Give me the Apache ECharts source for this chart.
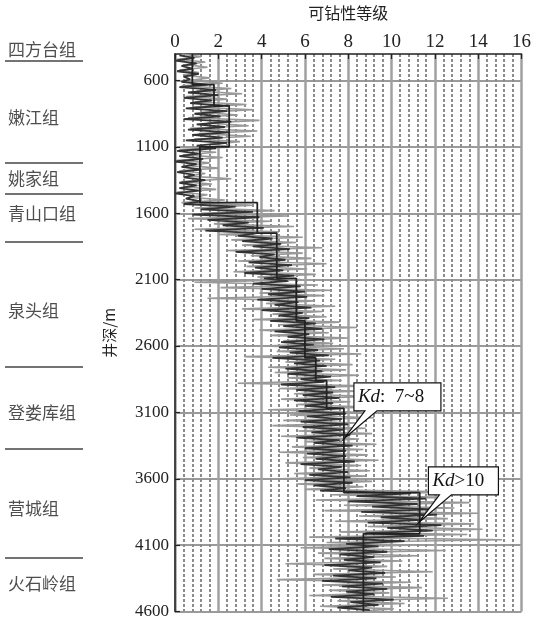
<!DOCTYPE html>
<html>
<head>
<meta charset="utf-8">
<style>
  html, body { margin: 0; padding: 0; background: #fff; }
  #chart { width: 534px; height: 620px; }
</style>
<script src="https://cdn.jsdelivr.net/npm/echarts@6/dist/echarts.min.js"></script>
</head>
<body>
<div id="chart"></div>
<script>
// depth axis (m) and drillability level ticks
var depthTicks = [600, 1100, 1600, 2100, 2600, 3100, 3600, 4100, 4600];
var kdTicks = [0, 2, 4, 6, 8, 10, 12, 14, 16];

// formation column
var formations = ['四方台组', '嫩江组', '姚家组', '青山口组', '泉头组', '登娄库组', '营城组', '火石岭组'];
var formationLabelDepth = [377, 882, 1341, 1605, 2335, 3103, 3819, 4384];
var formationBoundary = [460, 1228, 1454, 1816, 2757, 3374, 4195];

// raw drillability, light trace: depths 400, 420, ... 4600
var lightStart = 400, lightStep = 20;
var lightKd = [
  0.3,1.2,0.1,1.4,0.5,1.5,0.2,1.1,0.4,1.6,
  0.6,2.2,0.3,2.6,1.0,3.1,0.5,2.4,0.9,3.3,
  0.8,3.6,1.2,2.9,0.6,3.9,1.5,3.4,0.7,3.8,
  1.1,3.5,0.9,3.0,1.6,2.7,0.2,1.9,0.4,2.2,
  0.1,1.6,0.5,2.0,0.2,1.4,0.6,2.6,0.3,1.7,
  0.4,1.9,0.1,1.5,0.7,2.3,0.3,3.6,0.9,4.6,
  1.2,5.2,0.6,4.4,1.8,5.5,0.9,4.8,2.0,5.9,
  2.6,5.6,3.1,6.8,2.4,5.9,3.5,6.3,2.9,7.0,
  3.3,6.1,2.7,6.5,3.8,5.8,0.9,6.6,2.1,7.2,
  3.9,6.9,1.5,6.4,4.2,7.4,3.1,6.8,4.5,7.0,
  3.6,7.6,4.8,8.4,3.9,7.1,4.4,8.0,5.0,7.3,
  4.1,7.8,4.7,8.6,3.2,7.4,5.1,8.2,4.3,7.9,
  4.6,8.5,5.2,7.7,2.9,8.8,4.8,8.3,5.5,9.0,
  4.9,8.1,5.6,8.9,4.3,8.6,5.3,9.2,5.0,8.4,
  4.5,8.8,5.7,9.1,4.9,8.5,6.0,9.3,5.4,8.7,
  4.8,8.9,5.9,9.4,5.1,8.6,6.2,9.0,5.5,8.8,
  4.9,9.1,5.6,8.7,6.0,13.1,7.2,12.4,6.5,13.6,
  7.8,12.9,6.9,14.0,8.5,12.6,7.4,13.8,8.9,14.2,
  7.6,13.5,6.2,15.1,7.0,10.8,5.8,12.5,6.6,11.2,
  6.9,10.5,5.1,9.8,7.3,11.9,6.4,10.2,4.7,10.9,
  6.8,11.4,7.1,9.9,6.2,12.6,7.5,10.6,6.7,10.1,
  8.4
];

// raw drillability, dark trace: depths 410, 430, ... 4590
var darkStart = 410, darkStep = 20;
var darkKd = [
  0.2,0.9,0.0,1.0,0.3,0.8,0.1,1.1,0.4,0.7,
  0.3,1.5,0.2,1.9,0.6,2.0,0.4,1.7,0.7,2.2,
  0.5,2.4,0.9,2.1,0.4,2.6,1.0,2.3,0.6,2.5,
  0.8,2.2,0.5,2.4,1.0,1.9,0.1,1.1,0.2,1.3,
  0.0,1.0,0.3,1.2,0.1,0.9,0.4,1.4,0.2,1.0,
  0.2,1.1,0.0,0.9,0.5,1.2,0.4,2.8,1.2,3.6,
  0.8,3.9,1.5,3.4,2.2,4.1,1.4,3.8,2.9,4.5,
  3.1,4.9,3.6,5.3,2.8,4.6,3.9,5.1,3.4,5.4,
  3.7,5.0,3.2,5.5,4.1,5.2,3.6,5.8,4.0,6.0,
  4.3,6.1,3.8,5.7,4.6,6.3,4.0,5.9,4.8,6.2,
  4.4,6.5,5.0,6.8,4.6,6.2,5.2,6.9,4.9,6.4,
  4.8,6.6,5.3,7.1,4.5,6.7,5.5,7.0,5.1,6.8,
  5.2,7.2,5.8,6.9,4.9,7.4,5.6,7.3,5.9,7.6,
  5.5,7.3,6.0,7.6,5.7,7.9,6.1,7.7,5.8,8.0,
  5.9,7.8,6.3,8.1,5.6,7.6,6.4,8.2,6.0,7.9,
  6.1,7.9,6.5,8.3,5.8,7.7,6.6,8.0,6.2,8.1,
  6.0,8.2,6.4,7.9,6.7,10.9,8.4,11.6,8.0,11.2,
  9.1,11.8,8.6,12.1,9.5,11.4,8.9,12.3,9.8,11.9,
  8.8,11.5,7.4,10.6,7.9,9.4,7.1,9.8,7.6,9.2,
  7.8,9.5,6.9,9.1,8.0,9.7,7.3,9.3,6.8,9.6,
  7.7,9.8,7.9,9.2,7.2,10.1,8.1,9.4,7.5,9.0
];

// averaged (stepped) drillability level
var stepDepths = [400, 630, 790, 1100, 1520, 1750, 2090, 2410, 2690, 2860, 3070, 3705, 4015, 4600];
var stepKd = [0.8, 1.8, 2.5, 1.15, 3.8, 4.7, 5.6, 6.0, 6.5, 7.0, 7.8, 11.3, 8.7];

// callouts
var annoKd = [7.8, 11.24];
var annoDepth = [3299, 3932];
var annoKdText = [':  7~8', '>10'];

(function() {
  var serif = '"Liberation Serif", "Noto Sans CJK SC", serif';
  var cjk = '"Noto Sans CJK SC", sans-serif';

  var lightData = lightKd.map(function(v, i) { return [v, lightStart + i * lightStep]; });
  var darkData = darkKd.map(function(v, i) { return [v, darkStart + i * darkStep]; });
  var stepData = [];
  stepKd.forEach(function(v, i) {
    stepData.push([v, stepDepths[i]]);
    stepData.push([v, stepDepths[i + 1]]);
  });
  var labelData = formations.map(function(n, i) { return [0.04, formationLabelDepth[i], n]; });
  var annoData = annoKd.map(function(v, i) { return [v, annoDepth[i], annoKdText[i]]; });
  var boxW = [87, 70];

  var chart = echarts.init(document.getElementById('chart'), null, { renderer: 'canvas' });
  chart.setOption({
    animation: false,
    backgroundColor: '#fff',
    grid: [
      { left: 175, right: 10, top: 53, bottom: 8 },
      { left: 5, width: 78, top: 53, bottom: 8 }
    ],
    xAxis: [
      {
        gridIndex: 0,
        type: 'value',
        position: 'top',
        min: 0, max: 16, interval: 2,
        name: '可钻性等级',
        nameLocation: 'middle',
        nameGap: 33,
        nameTextStyle: { fontFamily: cjk, fontSize: 16, color: '#222' },
        axisLine: { lineStyle: { color: '#222', width: 1.5 } },
        axisTick: { inside: true, length: 5, lineStyle: { color: '#222', width: 1.2 } },
        axisLabel: { fontFamily: serif, fontSize: 19, color: '#222', margin: 2,
          formatter: function(v) { return kdTicks.indexOf(v) >= 0 ? String(v) : ''; } },
        splitLine: { show: true, lineStyle: { color: '#a0a0a0', width: 2.5 } },
        minorTick: { show: false, splitNumber: 5 },
        minorSplitLine: { show: true, lineStyle: { color: '#8c8c8c', width: 2, type: [3, 2] } }
      },
      { gridIndex: 1, type: 'value', min: 0, max: 1, show: false }
    ],
    yAxis: [
      {
        gridIndex: 0,
        type: 'value',
        inverse: true,
        min: 400, max: 4600,
        name: '井深/m',
        nameLocation: 'middle',
        nameRotate: 90,
        nameGap: 58,
        nameTextStyle: { fontFamily: cjk, fontSize: 15, color: '#222' },
        axisLine: { show: true, lineStyle: { color: '#222', width: 1.5 } },
        axisTick: { inside: true, length: 5, customValues: depthTicks, lineStyle: { color: '#222', width: 1.2 } },
        axisLabel: { fontFamily: serif, fontSize: 17, color: '#222', margin: 6, customValues: depthTicks,
          formatter: function(v) { return String(v); } },
        splitLine: { show: true, lineStyle: { color: '#9a9a9a', width: 2 } }
      },
      { gridIndex: 1, type: 'value', inverse: true, min: 400, max: 4600, show: false }
    ],
    series: [
      {
        name: 'light',
        type: 'line',
        xAxisIndex: 0, yAxisIndex: 0,
        data: lightData,
        showSymbol: false,
        lineStyle: { color: '#999', width: 1.6 },
        z: 3
      },
      {
        name: 'dark',
        type: 'line',
        data: darkData,
        showSymbol: false,
        lineStyle: { color: '#333', width: 1.8 },
        z: 4
      },
      {
        name: 'step',
        type: 'line',
        data: stepData,
        showSymbol: false,
        lineStyle: { color: '#222', width: 1.8 },
        z: 5
      },
      {
        name: 'callout',
        type: 'custom',
        data: annoData,
        z: 10,
        renderItem: function(params, api) {
          var p = api.coord([api.value(0), api.value(1)]);
          var w = boxW[params.dataIndex];
          var L = p[0] + 10, T = p[1] - 56, B = T + 28;
          var g1 = p[0] + 21, g2 = p[0] + 33;
          return {
            type: 'group',
            children: [
              {
                type: 'polygon',
                shape: { points: [[L, T], [L + w, T], [L + w, B], [g2, B], [p[0], p[1]], [g1, B], [L, B]] },
                style: { fill: '#fff', stroke: '#111', lineWidth: 1.2 }
              },
              {
                type: 'text',
                style: {
                  x: L + 4, y: T + 14,
                  verticalAlign: 'middle',
                  text: '{i|Kd}{n|' + annoKdText[params.dataIndex] + '}',
                  rich: {
                    i: { fontFamily: serif, fontStyle: 'italic', fontSize: 19, fill: '#111' },
                    n: { fontFamily: serif, fontSize: 19, fill: '#111' }
                  }
                }
              }
            ]
          };
        }
      },
      {
        name: 'formations',
        type: 'scatter',
        xAxisIndex: 1, yAxisIndex: 1,
        clip: false,
        symbolSize: 0,
        data: labelData,
        label: {
          show: true,
          position: 'right',
          distance: 0,
          fontFamily: cjk,
          fontSize: 17,
          color: '#222',
          formatter: function(p) { return p.value[2]; }
        },
        markLine: {
          symbol: 'none',
          silent: true,
          label: { show: false },
          lineStyle: { color: '#444', width: 1.5, type: 'solid' },
          data: formationBoundary.map(function(d) { return { yAxis: d }; })
        }
      }
    ]
  });
  window.addEventListener('resize', function() { chart.resize(); });
})();
</script>
</body>
</html>
